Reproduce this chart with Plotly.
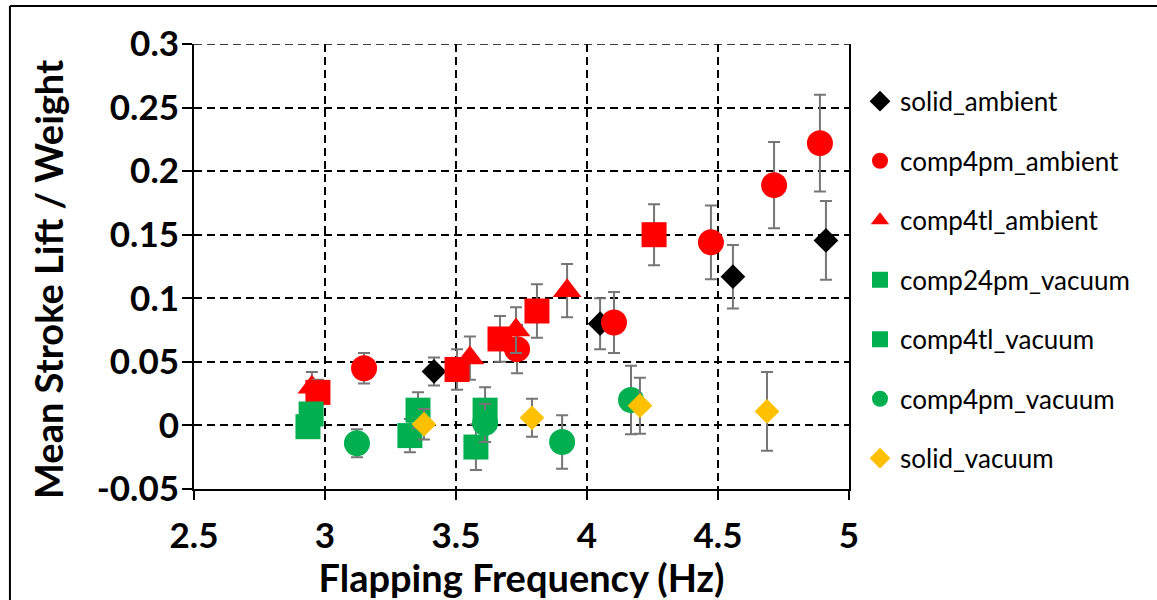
import plotly.graph_objects as go

# Flapping frequency (Hz), mean stroke lift / weight and error half-widths per series
solid_ambient_f = [3.416, 4.050, 4.557, 4.912]
solid_ambient_l = [0.0425, 0.080, 0.117, 0.1455]
solid_ambient_e = [0.011, 0.020, 0.025, 0.031]

comp4pm_ambient_f = [3.149, 3.733, 4.103, 4.473, 4.714, 4.889]
comp4pm_ambient_l = [0.045, 0.060, 0.081, 0.144, 0.189, 0.222]
comp4pm_ambient_e = [0.012, 0.019, 0.024, 0.029, 0.034, 0.038]

comp4tl_ambient_f = [2.950, 3.553, 3.729, 3.924]
comp4tl_ambient_l = [0.030, 0.053, 0.075, 0.106]
comp4tl_ambient_e = [0.012, 0.017, 0.018, 0.021]

comp24pm_ambient_f = [2.973, 3.504, 3.668, 3.809, 4.256]
comp24pm_ambient_l = [0.026, 0.044, 0.068, 0.090, 0.150]
comp24pm_ambient_e = [0.010, 0.016, 0.018, 0.021, 0.024]

comp24pm_vacuum_f = [2.935, 3.324, 3.576]
comp24pm_vacuum_l = [-0.001, -0.008, -0.017]
comp24pm_vacuum_e = [0.008, 0.013, 0.018]

comp4tl_vacuum_f = [2.947, 3.355, 3.611]
comp4tl_vacuum_l = [0.009, 0.012, 0.012]
comp4tl_vacuum_e = [0.008, 0.014, 0.018]

comp4pm_vacuum_f = [3.122, 3.611, 3.905, 4.168]
comp4pm_vacuum_l = [-0.014, 0.002, -0.013, 0.020]
comp4pm_vacuum_e = [0.011, 0.015, 0.021, 0.027]

solid_vacuum_f = [3.378, 3.790, 4.202, 4.687]
solid_vacuum_l = [0.001, 0.006, 0.0155, 0.011]
solid_vacuum_e = [0.012, 0.015, 0.022, 0.031]

x_ticks = [2.5, 3, 3.5, 4, 4.5, 5]
y_ticks = [-0.05, 0, 0.05, 0.1, 0.15, 0.2, 0.25, 0.3]

ERR_COLOR = "#767676"
GREEN = "#00B050"

series = [
    ("solid_ambient", solid_ambient_f, solid_ambient_l, solid_ambient_e, "diamond", 19, "black", True),
    ("comp4pm_ambient", comp4pm_ambient_f, comp4pm_ambient_l, comp4pm_ambient_e, "circle", 26, "#FF0000", True),
    ("comp4tl_ambient", comp4tl_ambient_f, comp4tl_ambient_l, comp4tl_ambient_e, "triangle-up", 25, "#FF0000", True),
    ("comp24pm_ambient", comp24pm_ambient_f, comp24pm_ambient_l, comp24pm_ambient_e, "square", 25, "#FF0000", False),
    ("comp24pm_vacuum", comp24pm_vacuum_f, comp24pm_vacuum_l, comp24pm_vacuum_e, "square", 25, GREEN, True),
    ("comp4tl_vacuum", comp4tl_vacuum_f, comp4tl_vacuum_l, comp4tl_vacuum_e, "square", 25, GREEN, True),
    ("comp4pm_vacuum", comp4pm_vacuum_f, comp4pm_vacuum_l, comp4pm_vacuum_e, "circle", 26, GREEN, True),
    ("solid_vacuum", solid_vacuum_f, solid_vacuum_l, solid_vacuum_e, "diamond", 19, "#FFC000", True),
]

fig = go.Figure()
for name, f, l, e, sym, size, color, show in series:
    fig.add_trace(go.Scatter(
        x=f, y=l, mode="markers", name=name,
        marker=dict(symbol=sym, size=size, color=color, line=dict(width=0)),
        error_y=dict(type="data", array=e, visible=True, color=ERR_COLOR, thickness=2, width=6),
        showlegend=show, legendgroup=name,
    ))

tick_font = dict(family="Lato", size=35, color="black", weight="bold")
title_font = dict(family="Lato", size=38, color="black", weight="bold")

fig.update_layout(
    width=1157, height=600,
    margin=dict(l=194, r=308, t=44, b=111),
    paper_bgcolor="white", plot_bgcolor="white",
    showlegend=True,
    legend=dict(
        x=1.0168, xanchor="left", y=0.924, yanchor="top",
        font=dict(family="Lato", size=26, color="black"),
        tracegroupgap=22.7, traceorder="grouped",
        bgcolor="rgba(0,0,0,0)",
    ),
    xaxis=dict(
        range=[2.5, 5], tickvals=x_ticks, ticktext=[f"{v:g}" for v in x_ticks],
        showline=True, linecolor="black", linewidth=2, mirror=False,
        ticks="outside", ticklen=9, tickwidth=1.5, tickcolor="black",
        ticklabelstandoff=6,
        showgrid=True, gridcolor="black", gridwidth=1.5, griddash="8px,5px",
        zeroline=False, tickfont=tick_font,
        title=dict(text="Flapping Frequency (Hz)", font=title_font, standoff=2),
    ),
    yaxis=dict(
        range=[-0.05, 0.3], tickvals=y_ticks, ticktext=[f"{v:g}" for v in y_ticks],
        showline=True, linecolor="black", linewidth=2, mirror=True,
        ticks="outside", ticklen=10, tickwidth=1.5, tickcolor="black",
        ticklabelstandoff=-4,
        showgrid=True, gridcolor="black", gridwidth=1.5, griddash="8px,5px",
        zeroline=False, tickfont=tick_font,
    ),
    annotations=[
        dict(text="Mean Stroke Lift / Weight", textangle=-90, font=title_font,
             xref="paper", yref="paper", x=-0.2229, y=0.4697,
             xanchor="center", yanchor="middle", showarrow=False),
    ],
    shapes=[
        # dashed top grid line at the range maximum
        dict(type="line", xref="paper", yref="y", x0=0, x1=1, y0=0.3, y1=0.3,
             line=dict(color="black", width=1.5, dash="8px,5px"), layer="below"),
        # outer frame of the figure
        dict(type="line", xref="paper", yref="paper", x0=-0.281, x1=1.6, y0=1.0854, y1=1.0854,
             line=dict(color="black", width=2)),
        dict(type="line", xref="paper", yref="paper", x0=-0.281, x1=-0.281, y0=1.0854, y1=-0.4,
             line=dict(color="black", width=2)),
    ],
)

fig.write_html("out.html")
